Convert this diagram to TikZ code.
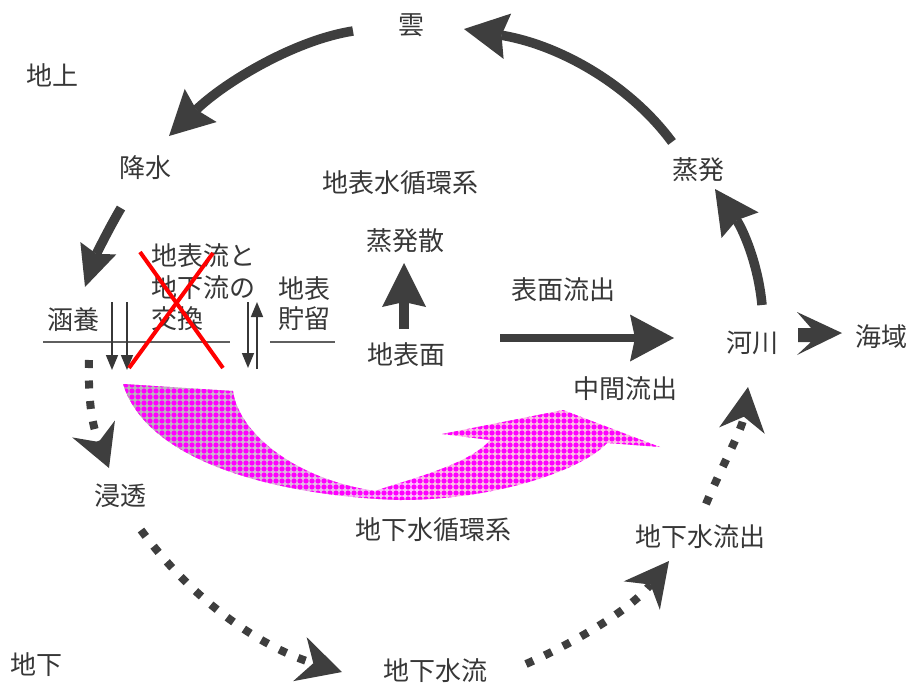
\documentclass[tikz,border=0pt]{standalone}
\usepackage{fontspec}
\newfontfamily\jpfont{Noto Sans CJK JP}
\usetikzlibrary{arrows.meta,patterns.meta}
\definecolor{ink}{RGB}{55,55,55}
\definecolor{arr}{RGB}{62,62,62}
\begin{document}
\begin{tikzpicture}[x=1pt,y=-1pt,
  lbl/.style={font=\jpfont\fontsize{26}{30}\selectfont, text=ink, inner sep=0pt},
  bigarrow/.style={draw=arr, line width=9.5pt, -{Stealth[length=44pt,width=46pt,inset=6pt,line width=0pt]}},
  dotarrow/.style={draw=arr, line width=8pt, dash pattern=on 8pt off 12.5pt, -{Stealth[length=42pt,width=46pt,inset=14pt,line width=0pt]}},
  thinarrow/.style={draw=ink, line width=1.6pt, -{Triangle[length=15pt,width=12pt]}},
  rule/.style={draw=ink!80, line width=1.3pt},
  cross/.style={draw=red, line width=4pt}
]
\useasboundingbox (0,0) rectangle (918,691);

% ---------- groundwater swoosh ----------
\def\swoosh{(123,384) -- (233,391) .. controls (238,430) and (290,478) .. (375,491)
  .. controls (400,482) and (470,465) .. (490,440) -- (442,434) -- (563,410) -- (660,447)
  -- (607,443) .. controls (585,468) and (500,500) .. (400,500)
  .. controls (300,497) and (150,470) .. (123,384) -- cycle}
\begin{scope}
  \clip \swoosh;
  \fill[magenta!25] (118,378) rectangle (680,505);
  \shade[left color=gray!60, right color=magenta!25] (118,378) rectangle (420,505);
  \fill[pattern={Dots[distance=6pt,radius=2.6pt]}, pattern color=magenta] \swoosh;
\end{scope}

% ---------- labels ----------
\node[lbl] (kumo) at (411,25) {雲};
\node[lbl] (chijo) at (52,75) {地上};
\node[lbl] (kosui) at (145,168) {降水};
\node[lbl] (chihyokei) at (400,183) {地表水循環系};
\node[lbl] (johatsu) at (698,170) {蒸発};
\node[lbl] (johatsusan) at (405,241) {蒸発散};
\node[lbl,anchor=west] (ex1) at (151,256) {地表流と};
\node[lbl,anchor=west] (ex2) at (151,288) {地下流の};
\node[lbl,anchor=west] (ex3) at (151,319) {交換};
\node[lbl] (choryu1) at (304,289) {地表};
\node[lbl] (choryu2) at (304,319) {貯留};
\node[lbl] (kanyo) at (73,320) {涵養};
\node[lbl] (chihyomen) at (406,355) {地表面};
\node[lbl] (hyomen) at (563,290) {表面流出};
\node[lbl] (kasen) at (752,343) {河川};
\node[lbl] (kaiiki) at (881,337) {海域};
\node[lbl] (chukan) at (625,389) {中間流出};
\node[lbl] (shinto) at (120,496) {浸透};
\node[lbl] (chikakei) at (433,530) {地下水循環系};
\node[lbl] (ryushutsu) at (700,537) {地下水流出};
\node[lbl] (chika) at (36,665) {地下};
\node[lbl] (chikaryu) at (435,671) {地下水流};

% ---------- coordinates ----------
\coordinate (c1s) at (353,31);  \coordinate (c1e) at (169,136);
\coordinate (c2s) at (672,142); \coordinate (c2e) at (464,29);
\coordinate (c3s) at (762,305); \coordinate (c3e) at (715,189);
\coordinate (c4s) at (121,208); \coordinate (c4e) at (85,287);
\coordinate (c5s) at (404,329); \coordinate (c5e) at (404,263);
\coordinate (c6s) at (500,338); \coordinate (c6e) at (674,338);
\coordinate (d1s) at (89,360);  \coordinate (d1e) at (109,468);
\coordinate (d2s) at (141,530); \coordinate (d2e) at (342,672);
\coordinate (d3s) at (526,664); \coordinate (d3e) at (669,561);
\coordinate (d4s) at (706,504); \coordinate (d4e) at (748,387);
\coordinate (t1s) at (112,302); \coordinate (t1e) at (112,370);
\coordinate (t2s) at (127,302); \coordinate (t2e) at (127,370);
\coordinate (t3s) at (248,302); \coordinate (t3e) at (248,368);
\coordinate (t4s) at (257,369); \coordinate (t4e) at (257,302);
\coordinate (r1a) at (43,342);  \coordinate (r1b) at (230,342);
\coordinate (r2a) at (270,342); \coordinate (r2b) at (335,342);
\coordinate (x1a) at (140,252); \coordinate (x1b) at (223,368);
\coordinate (x2a) at (213,253); \coordinate (x2b) at (129,368);

% ---------- rules ----------
\draw[rule] (r1a) -- (r1b);
\draw[rule] (r2a) -- (r2b);

% ---------- big arrows ----------
\draw[bigarrow] (c1s) .. controls (295,40) and (225,82) .. (c1e);
\draw[bigarrow] (c2s) .. controls (630,85) and (560,45) .. (c2e);
\draw[bigarrow,-{Stealth[length=44pt,width=45pt,inset=6pt,line width=0pt]}] (c3s) .. controls (758,262) and (742,228) .. (c3e);
\draw[bigarrow,-{Stealth[length=41pt,width=38pt,inset=6pt,line width=0pt]}] (c4s) .. controls (108,230) and (96,255) .. (c4e);
\draw[bigarrow,-{Stealth[length=44pt,width=44pt,inset=5pt,line width=0pt]}] (c5s) -- (c5e);
\draw[bigarrow,line width=8.5pt,-{Stealth[length=44pt,width=47pt,inset=5pt,line width=0pt]}] (c6s) -- (c6e);

% river -> sea notched arrow
\fill[arr] (797,312) -- (842,333) -- (797,355) -- (811,342) -- (798,342) -- (798,328) -- (811,328) -- cycle;

% ---------- dotted arrows ----------
\draw[dotarrow] (d1s) .. controls (88,400) and (92,425) .. (d1e);
\draw[dotarrow,-{Stealth[length=44pt,width=46pt,inset=14pt,line width=0pt]}] (d2s) .. controls (200,610) and (270,650) .. (d2e);
\draw[dotarrow,-{Stealth[length=44pt,width=46pt,inset=14pt,line width=0pt]}] (d3s) .. controls (580,640) and (632,608) .. (d3e);
\draw[dotarrow,-{Stealth[length=44pt,width=46pt,inset=14pt,line width=0pt]}] (d4s) .. controls (720,470) and (742,430) .. (d4e);

% ---------- thin exchange arrows ----------
\draw[thinarrow] (t1s) -- (t1e);
\draw[thinarrow] (t2s) -- (t2e);
\draw[thinarrow] (t3s) -- (t3e);
\draw[thinarrow] (t4s) -- (t4e);

% ---------- red cross ----------
\draw[cross] (x1a) -- (x1b);
\draw[cross] (x2a) -- (x2b);
\end{tikzpicture}
\end{document}
